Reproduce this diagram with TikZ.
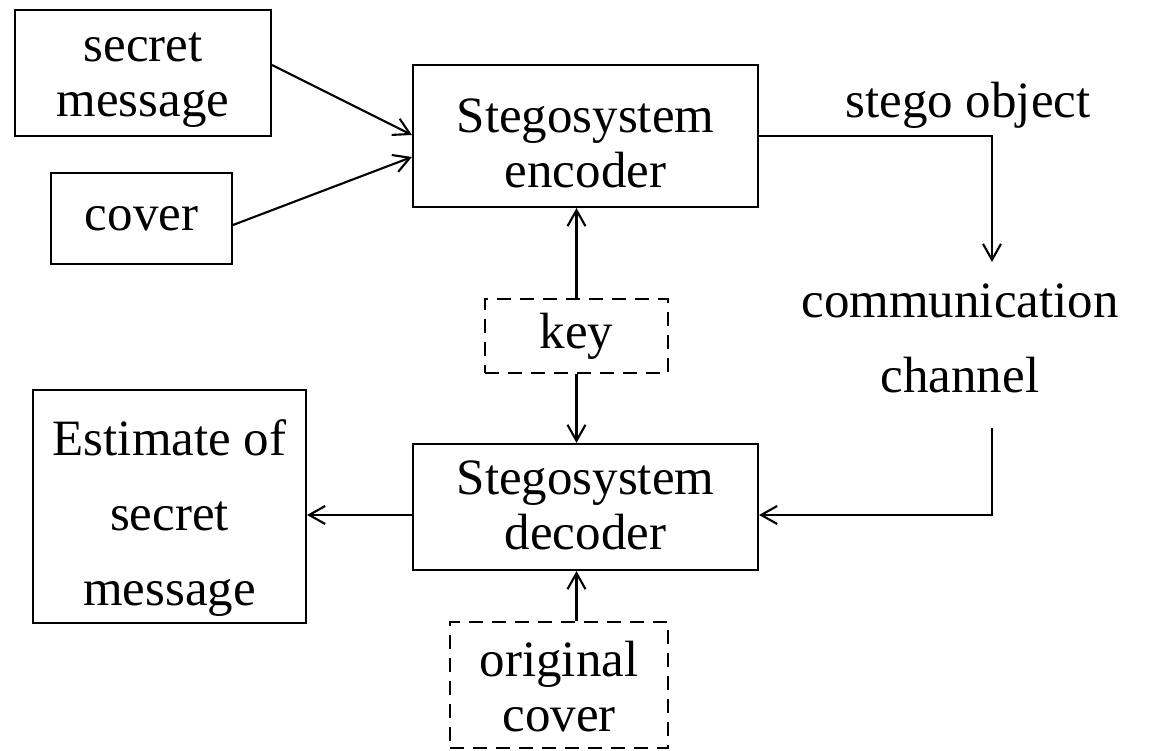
\documentclass[tikz,border=0pt]{standalone}
\usepackage{fontspec}
\setmainfont{Liberation Serif}
\usetikzlibrary{positioning, arrows.meta}

% text set a little below the middle of its box
\newcommand{\lowtext}[2][1.3mm]{\raisebox{-#1}[\height][\depth]{\begin{tabular}{@{}c@{}}#2\end{tabular}}}

\begin{document}
\begin{tikzpicture}[line width=0.6pt, font=\fontsize{14.5}{15.6}\selectfont,
  box/.style={draw, rectangle, align=center, inner sep=0pt},
  dbox/.style={box, dash pattern=on 1.4mm off 0.9mm},
  arr/.style={-{Straight Barb[length=1.6mm,width=1.8mm]}}]
  	\useasboundingbox (0,0) rectangle (11.65,7.51);

  	\node[box, minimum width=2.56cm, minimum height=1.26cm] (msg) at (1.43,6.78) {\lowtext[0.5mm]{secret\\ message}};
  	\node[box, minimum width=1.81cm, minimum height=0.91cm] (cov) at (1.415,5.325) {cover};
  	\node[box, minimum width=3.45cm, minimum height=1.42cm] (enc) at (5.855,6.15) {\lowtext{Stegosystem\\ encoder}};
  	\node[dbox, minimum width=1.83cm, minimum height=0.74cm] (key) at (5.765,4.15) {key};
  	\node[box, minimum width=3.45cm, minimum height=1.26cm] (dec) at (5.855,2.44) {\lowtext[0.4mm]{Stegosystem\\ decoder}};
  	\node[dbox, minimum width=2.18cm, minimum height=1.26cm] (orig) at (5.59,0.66) {\lowtext[0.8mm]{original\\ cover}};
  	\node[box, minimum width=2.73cm, minimum height=2.33cm] (est) at (1.695,2.445) {\lowtext{Estimate of\\[2mm] secret\\[2mm] message}};

  	\node[] (obj) at (9.68,6.46) {stego object};
  	\node[align=center] (chan) at (9.6,4.13) {communication\\[2mm] channel};

  	\coordinate (c1) at (9.92,4.89);
  	\coordinate (c2) at (9.92,3.23);

  	\draw[arr] (msg.east |- 0,6.86) -- (enc.west |- 0,6.16);
  	\draw[arr] (cov.east |- 0,5.26) -- (enc.west |- 0,5.94);
  	\draw[arr] (enc.east |- 0,6.15) -| (c1);
  	\draw[arr] (c2) |- (dec.east |- 0,2.36);
  	\draw[arr] (key.north) -- (key.north |- enc.south);
  	\draw[arr] (key.south) -- (key.south |- dec.north);
  	\draw[arr] (dec.west |- 0,2.36) -- (est.east |- 0,2.36);
  	\draw[arr] (key |- orig.north) -- (key |- dec.south);
\end{tikzpicture}
\end{document}
